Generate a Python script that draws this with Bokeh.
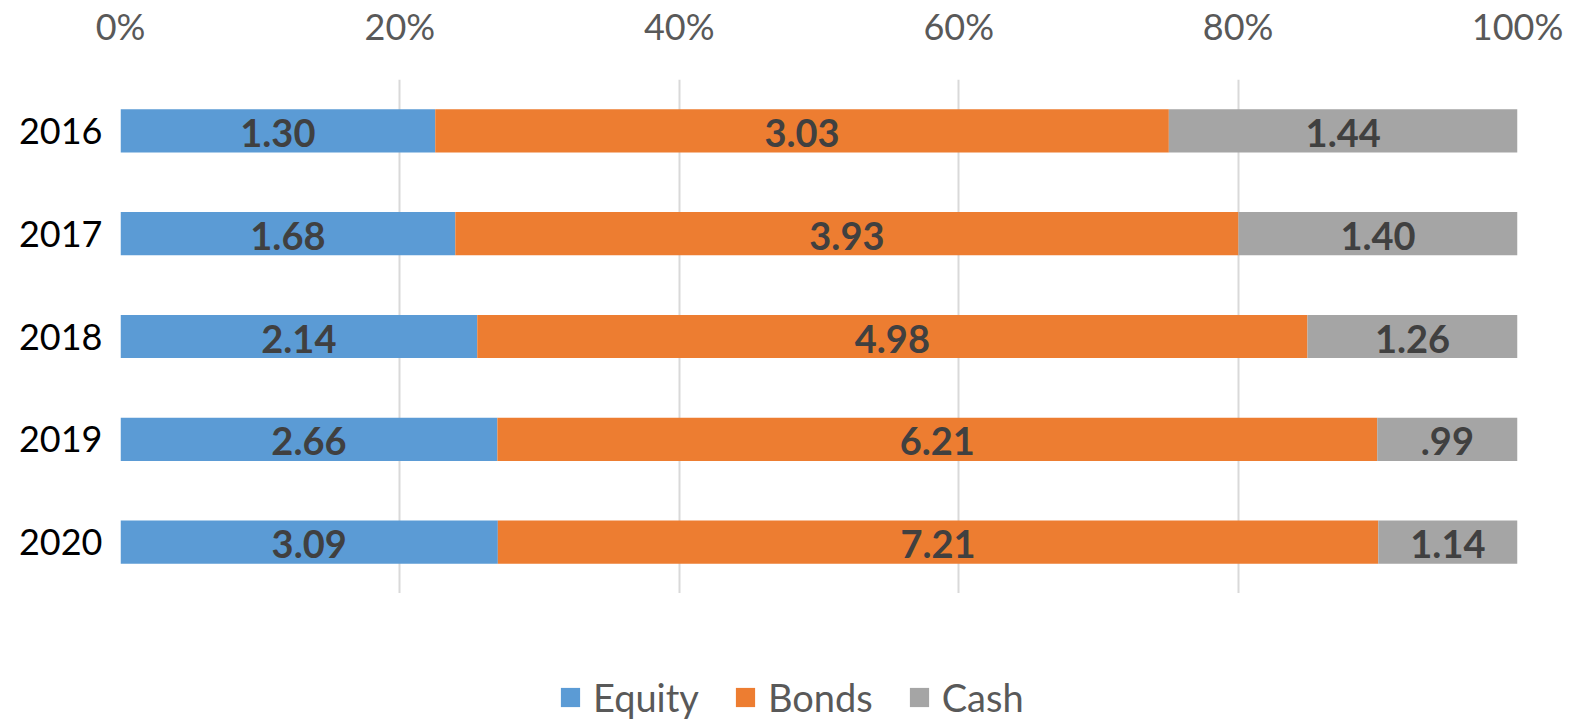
from bokeh.plotting import figure
from bokeh.layouts import column
from bokeh.models import ColumnDataSource, FactorRange, Range1d, FixedTicker, NumeralTickFormatter, Legend, LegendItem
from bokeh.embed import file_html
from bokeh.resources import INLINE
from bokeh.core.properties import value

years = ["2016", "2017", "2018", "2019", "2020"]
equity = [1.30, 1.68, 2.14, 2.66, 3.09]
bonds = [3.03, 3.93, 4.98, 6.21, 7.21]
cash = [1.44, 1.40, 1.26, 0.99, 1.14]
series_names = ["Equity", "Bonds", "Cash"]
colors = ["#5b9bd5", "#ed7d31", "#a5a5a5"]
x_ticks = [0, 0.2, 0.4, 0.6, 0.8, 1.0]

def fmt(v):
    s = f"{v:.2f}"
    return s[1:] if s.startswith("0") else s

series = [equity, bonds, cash]
totals = [sum(t) for t in zip(*series)]

p = figure(width=1570, height=593, output_backend="svg", toolbar_location=None,
           y_range=FactorRange(factors=years[::-1], range_padding=0),
           x_range=Range1d(0, 1), x_axis_location="above",
           min_border_left=120, min_border_right=53, min_border_top=78, min_border_bottom=0)
p.outline_line_color = None
p.background_fill_color = "white"
p.border_fill_color = "white"

lefts = [0.0] * len(years)
for name, vals, col in zip(series_names, series, colors):
    fr = [v / t for v, t in zip(vals, totals)]
    rights = [l + f for l, f in zip(lefts, fr)]
    src = ColumnDataSource(dict(y=years, left=lefts, right=rights,
                                mid=[(l + r) / 2 for l, r in zip(lefts, rights)],
                                lab=[fmt(v) for v in vals]))
    p.hbar(y="y", left="left", right="right", height=0.42, source=src,
           fill_color=col, line_color=None)
    p.text(x="mid", y="y", text="lab", source=src, text_align="center", text_baseline="middle",
           text_font=value("Lato"), text_font_style="bold", text_font_size="38px", text_color="#404040",
           y_offset=2)
    lefts = rights

p.xaxis.ticker = FixedTicker(ticks=x_ticks)
p.xaxis.formatter = NumeralTickFormatter(format="0%")
for ax in (p.xaxis[0], p.yaxis[0]):
    ax.axis_line_color = None
    ax.major_tick_line_color = None
    ax.minor_tick_line_color = None
    ax.major_label_text_font = "Lato"
    ax.major_label_text_font_size = "36px"
p.xaxis.major_label_text_color = "#595959"
p.xaxis.major_label_standoff = 26
p.yaxis.major_label_text_color = "#000000"
p.yaxis.major_label_standoff = 12

p.xgrid.ticker = FixedTicker(ticks=x_ticks)
p.xgrid.grid_line_color = "#d9d9d9"
p.xgrid.grid_line_width = 2
p.ygrid.grid_line_color = None

# legend panel (placeholder renderers lie outside the visible range)
lg = figure(width=1570, height=128, output_backend="svg", toolbar_location=None,
            x_range=Range1d(0, 1), y_range=Range1d(0, 1),
            min_border_left=0, min_border_right=0, min_border_top=0, min_border_bottom=0)
lg.axis.visible = False
lg.grid.visible = False
lg.outline_line_color = None
lg.background_fill_color = "white"
lg.border_fill_color = "white"
items = []
for name, col in zip(series_names, colors):
    r = lg.hbar(y=[-5], left=[0], right=[0.1], height=0.5, fill_color=col, line_color=None)
    items.append(LegendItem(label=name, renderers=[r]))
legend = Legend(items=items, orientation="horizontal", location=(438, 1),
                glyph_width=24, glyph_height=24, label_standoff=11, spacing=34,
                label_text_font="Lato", label_text_font_size="38px", label_text_color="#595959",
                border_line_color=None, background_fill_alpha=0, padding=0, margin=0)
lg.add_layout(legend, "center")

layout = column(p, lg, spacing=0)
open("out.html", "w").write(file_html(layout, INLINE))
